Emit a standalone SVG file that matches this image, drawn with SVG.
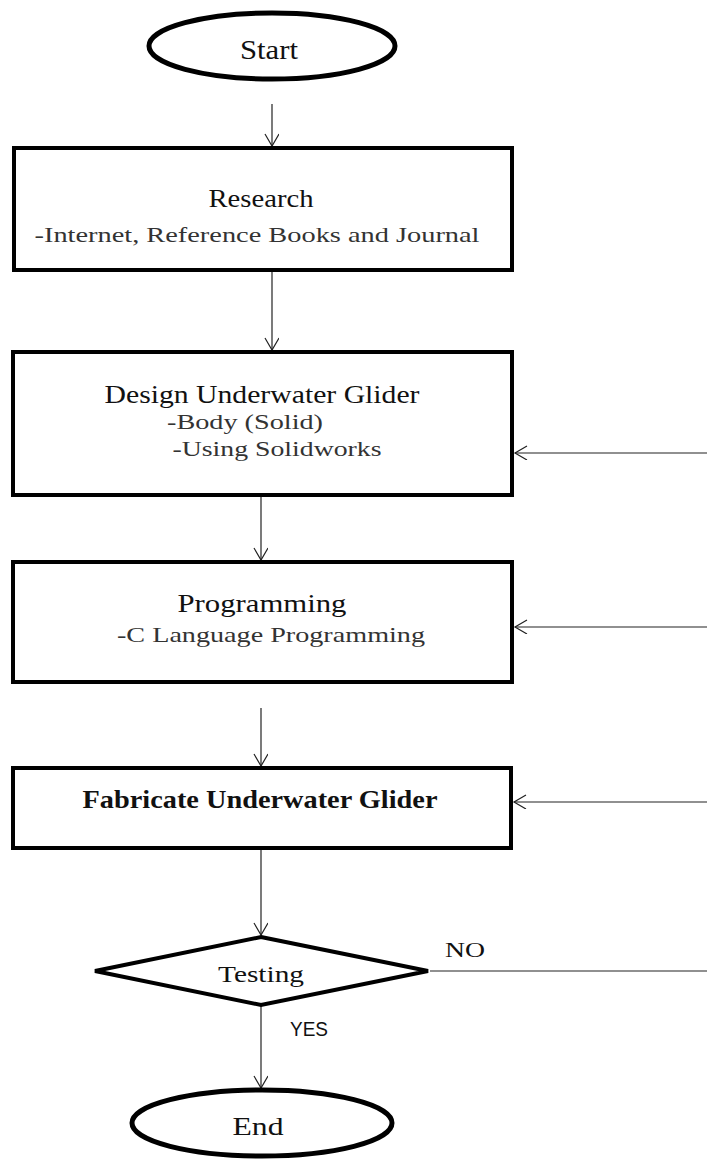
<svg xmlns="http://www.w3.org/2000/svg" width="707" height="1160" viewBox="0 0 707 1160">
<style>
.shape{fill:#fff;stroke:#000;stroke-width:4}
.oval{fill:#fff;stroke:#000;stroke-width:5}
.conn{fill:none;stroke:#222;stroke-width:1.2}
.t1{font-family:"Liberation Serif",serif;font-size:26px;fill:#111;text-anchor:middle}
.t2{font-family:"Liberation Serif",serif;font-size:21px;fill:#333;text-anchor:middle}
.lbl{font-family:"Liberation Sans",sans-serif;font-size:20px;fill:#111}
.lbls{font-family:"Liberation Serif",serif;font-size:22px;fill:#111}
</style>
<defs>
<marker id="ah" markerWidth="16" markerHeight="16" refX="13" refY="7" orient="auto" markerUnits="userSpaceOnUse">
<path d="M1,0 L13,7 L1,14" fill="none" stroke="#222" stroke-width="1.2"/>
</marker>
</defs>
<rect width="707" height="1160" fill="#fff"/>
<g id="connectors">
<line class="conn" x1="272" y1="104" x2="272" y2="146" marker-end="url(#ah)"/>
<line class="conn" x1="272" y1="272" x2="272" y2="350" marker-end="url(#ah)"/>
<line class="conn" x1="261" y1="497" x2="261" y2="560" marker-end="url(#ah)"/>
<line class="conn" x1="261" y1="708" x2="261" y2="766" marker-end="url(#ah)"/>
<line class="conn" x1="261" y1="850" x2="261" y2="935" marker-end="url(#ah)"/>
<line class="conn" x1="261" y1="1006" x2="261" y2="1088" marker-end="url(#ah)"/>
<line class="conn" x1="430" y1="971" x2="707" y2="971"/>
<line class="conn" x1="707" y1="453" x2="515" y2="453" marker-end="url(#ah)"/>
<line class="conn" x1="707" y1="627" x2="515" y2="627" marker-end="url(#ah)"/>
<line class="conn" x1="707" y1="802" x2="514" y2="802" marker-end="url(#ah)"/>
<text class="lbls" x="445" y="957" textLength="40" lengthAdjust="spacingAndGlyphs">NO</text>
<text class="lbl" x="290" y="1036" textLength="38" lengthAdjust="spacingAndGlyphs">YES</text>
</g>
<g id="start">
<ellipse class="oval" cx="272" cy="46" rx="123" ry="33"/>
<text class="t1" x="269" y="59" textLength="58" lengthAdjust="spacingAndGlyphs" style="font-size:28px">Start</text>
</g>
<g id="research">
<rect class="shape" x="14" y="148" width="498" height="122"/>
<text class="t1" x="261" y="207" textLength="105" lengthAdjust="spacingAndGlyphs">Research</text>
<text class="t2" x="257" y="242" textLength="445" lengthAdjust="spacingAndGlyphs">-Internet, Reference Books and Journal</text>
</g>
<g id="design">
<rect class="shape" x="13" y="352" width="499" height="143"/>
<text class="t1" x="262" y="403" textLength="315" lengthAdjust="spacingAndGlyphs">Design Underwater Glider</text>
<text class="t2" x="245" y="429" textLength="156" lengthAdjust="spacingAndGlyphs">-Body (Solid)</text>
<text class="t2" x="277" y="456" textLength="209" lengthAdjust="spacingAndGlyphs">-Using Solidworks</text>
</g>
<g id="programming">
<rect class="shape" x="13" y="562" width="499" height="120"/>
<text class="t1" x="262" y="612" textLength="169" lengthAdjust="spacingAndGlyphs">Programming</text>
<text class="t2" x="271" y="642" textLength="308" lengthAdjust="spacingAndGlyphs">-C Language Programming</text>
</g>
<g id="fabricate">
<rect class="shape" x="13" y="768" width="498" height="80"/>
<text class="t1" x="260" y="808" font-weight="bold" textLength="355" lengthAdjust="spacingAndGlyphs">Fabricate Underwater Glider</text>
</g>
<g id="testing">
<polygon class="shape" points="261,937 428,971 261,1005 95,971"/>
<text class="t1" x="261" y="982" textLength="86" lengthAdjust="spacingAndGlyphs" style="font-size:24px">Testing</text>
</g>
<g id="end">
<ellipse class="oval" cx="262" cy="1123" rx="130" ry="33"/>
<text class="t1" x="258" y="1135" textLength="51" lengthAdjust="spacingAndGlyphs" style="font-size:25px">End</text>
</g>
</svg>
